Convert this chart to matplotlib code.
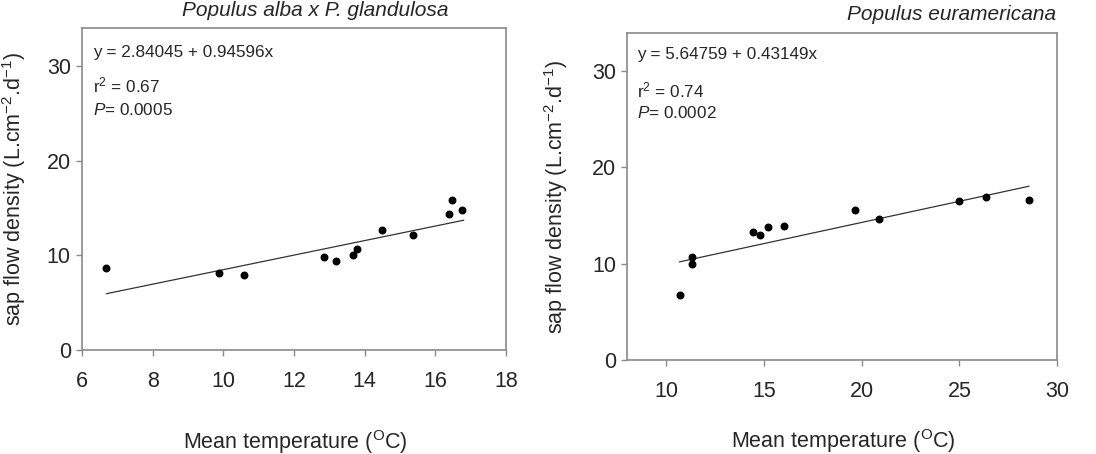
import numpy as np
import matplotlib
matplotlib.use('Agg')
import matplotlib.pyplot as plt

plt.rcParams['font.family'] = ['Liberation Sans', 'DejaVu Sans']
plt.rcParams['mathtext.fontset'] = 'custom'
plt.rcParams['mathtext.rm'] = 'Liberation Sans'
plt.rcParams['mathtext.it'] = 'Liberation Sans:italic'

# Populus alba x P. glandulosa
temp_a = [6.68, 9.88, 10.58, 12.86, 13.18, 13.66, 13.77, 14.48, 15.38, 16.38, 16.47, 16.75]
sap_a = [8.7, 8.1, 7.95, 9.8, 9.35, 10.0, 10.65, 12.7, 12.1, 14.4, 15.8, 14.75]
fit_a_x = [6.7, 16.8]
fit_a_y = [5.95, 13.7]

# Populus euramericana
temp_b = [10.68, 11.32, 11.32, 14.41, 14.77, 15.21, 16.03, 19.66, 20.87, 24.99, 26.39, 28.56]
sap_b = [6.8, 10.7, 10.0, 13.3, 13.0, 13.85, 13.95, 15.55, 14.65, 16.55, 16.95, 16.65]
fit_b_x = [10.68, 28.56]
fit_b_y = [10.2, 18.05]

spine_col = '#8a8a8a'
txt_col = '#262626'

fig = plt.figure(figsize=(10.96, 4.54), dpi=100)
ax1 = fig.add_axes([0.0748, 0.2291, 0.3869, 0.7093])
ax2 = fig.add_axes([0.5724, 0.2070, 0.3920, 0.7210])

def style(ax, xlim, xticks):
    ax.set_xlim(xlim)
    ax.set_ylim(0, 34)
    ax.set_xticks(xticks)
    ax.set_yticks([0, 10, 20, 30])
    for s in ax.spines.values():
        s.set_color(spine_col)
        s.set_linewidth(1.2)
    ax.tick_params(axis='x', length=4, width=1, color=spine_col, labelsize=15.5, labelcolor=txt_col, pad=11)
    ax.tick_params(axis='y', length=4, width=1, color=spine_col, labelsize=15.5, labelcolor=txt_col, pad=4)
    ax.set_xlabel('Mean temperature ($^{\\mathrm{O}}$C)', fontsize=15.5, color=txt_col)
    ax.set_ylabel('sap flow density (L.cm$^{\\mathrm{-2}}$.d$^{\\mathrm{-1}}$)', fontsize=15.5, color=txt_col)

# left panel
ax1.plot(fit_a_x, fit_a_y, color='#333333', lw=0.9)
ax1.scatter(temp_a, sap_a, s=22, color='black', zorder=3)
style(ax1, (6, 18), [6, 8, 10, 12, 14, 16, 18])
ax1.xaxis.set_label_coords(0.502, -0.242)
ax1.yaxis.set_label_coords(-0.128, 0.5)
ax1.text(0.026, 0.925, 'y = 2.84045 + 0.94596x', transform=ax1.transAxes, fontsize=12.3, color=txt_col, va='center')
ax1.text(0.026, 0.823, 'r$^{2}$ = 0.67', transform=ax1.transAxes, fontsize=12.3, color=txt_col, va='center')
ax1.text(0.026, 0.745, '$P$= 0.0005', transform=ax1.transAxes, fontsize=12.3, color=txt_col, va='center')
fig.text(315 / 1096, 1 - 10 / 454, 'Populus alba x P. glandulosa', fontsize=15, style='italic',
         color=txt_col, ha='center', va='center')

# right panel
ax2.plot(fit_b_x, fit_b_y, color='#333333', lw=0.9)
ax2.scatter(temp_b, sap_b, s=22, color='black', zorder=3)
style(ax2, (8, 30), [10, 15, 20, 25, 30])
ax2.xaxis.set_label_coords(0.502, -0.205)
ax2.yaxis.set_label_coords(-0.133, 0.5)
ax2.text(0.023, 0.932, 'y = 5.64759 + 0.43149x', transform=ax2.transAxes, fontsize=12.3, color=txt_col, va='center')
ax2.text(0.023, 0.825, 'r$^{2}$ = 0.74', transform=ax2.transAxes, fontsize=12.3, color=txt_col, va='center')
ax2.text(0.023, 0.755, '$P$= 0.0002', transform=ax2.transAxes, fontsize=12.3, color=txt_col, va='center')
fig.text(1056 / 1096, 1 - 15 / 454, 'Populus euramericana', fontsize=15, style='italic',
         color=txt_col, ha='right', va='center')

fig.savefig('out.png', dpi=100)
